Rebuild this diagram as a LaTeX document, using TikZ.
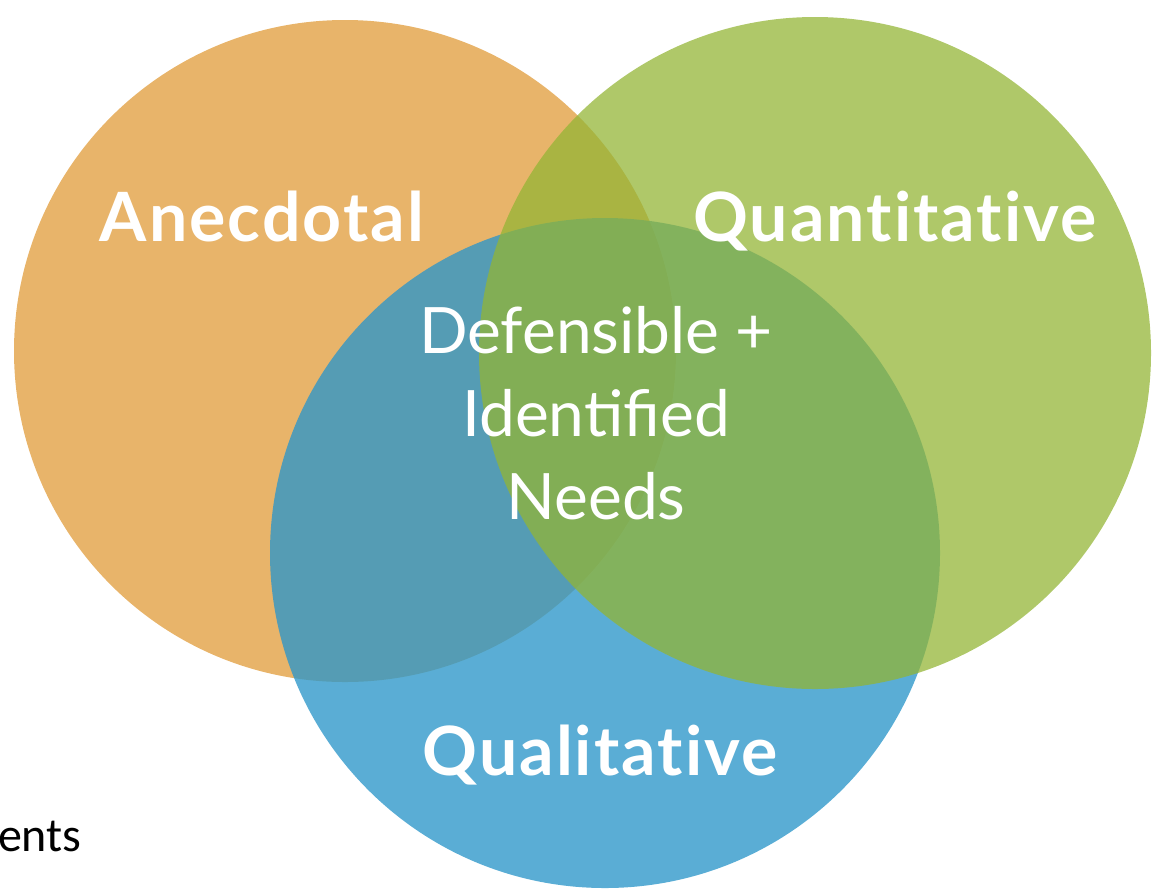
\documentclass[tikz,border=0pt]{standalone}
\usepackage{fontspec}
\setmainfont{Lato}
\newfontfamily\labelfont[LetterSpace=3, RawFeature=-liga]{Lato}
\newfontfamily\notefont{Carlito}
\usetikzlibrary{positioning}
\definecolor{anecorange}{RGB}{232,180,106}
\definecolor{qualblue}{RGB}{44,150,201}
\definecolor{quantgreen}{RGB}{147,181,53}
\tikzstyle{setcircle} = [circle, inner sep=0pt, draw=none]
\tikzstyle{setlabel} = [text=white, font=\labelfont\fontsize{34}{40}\selectfont\bfseries, inner sep=0pt, anchor=base]
\tikzstyle{core} = [text=white, font=\fontsize{32}{41.5}\selectfont, align=center, inner sep=0pt, anchor=base]
\tikzstyle{note} = [text=black, font=\notefont\fontsize{24}{28}\selectfont, inner sep=0pt, anchor=base east]

\begin{document}
\begin{tikzpicture}[x=0.5pt, y=-0.5pt]
    \useasboundingbox (0,0) rectangle (1160,890);
    % the three sets
    \node at (345,351) [setcircle, minimum size=331pt, fill=anecorange] (anec) {};
    \node at (605,553) [setcircle, minimum size=335pt, fill=qualblue, fill opacity=0.78] (qual) {};
    \node at (815,353) [setcircle, minimum size=336pt, fill=quantgreen, fill opacity=0.74] (quant) {};

    \node at (262,241) [setlabel] (anectext) {Anecdotal};
    \node at (895,241) [setlabel] (quanttext) {Quantitative};
    \node at (600,775) [setlabel] (qualtext) {Qualitative};
    % base anchor sits on the last line
    \node at (596,519) [core] (coretext) {Defensible +\\Identified\\Needs};

    \node at (82,851) [note] (notetext) {ents};
\end{tikzpicture}
\end{document}
